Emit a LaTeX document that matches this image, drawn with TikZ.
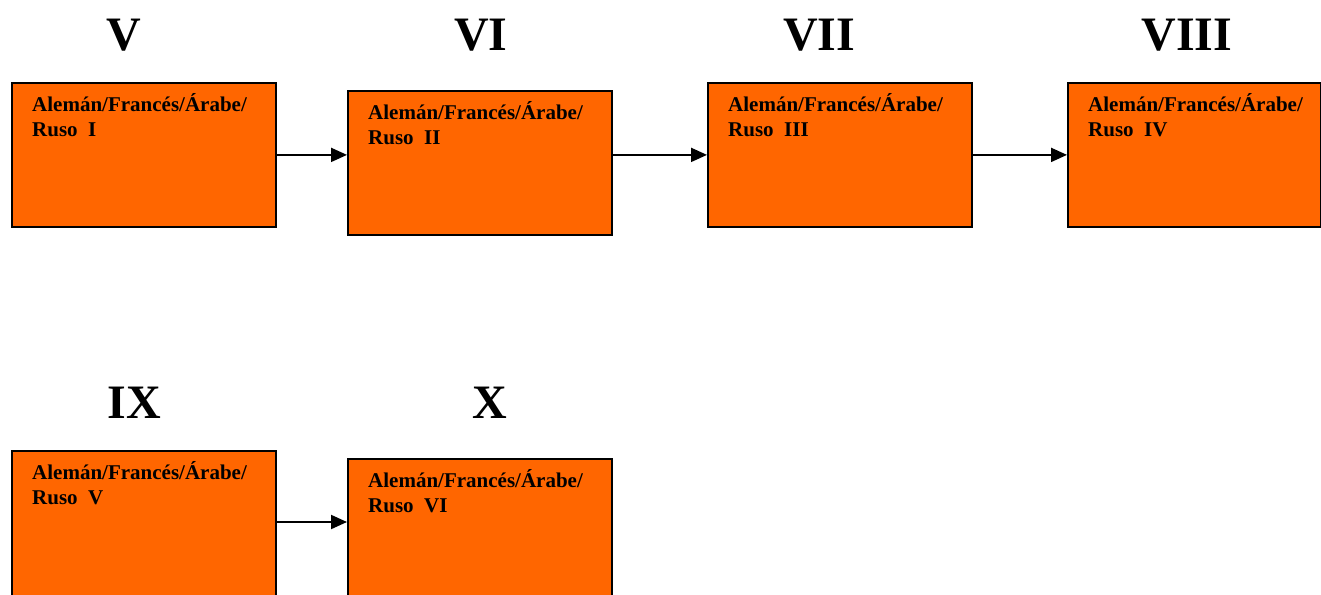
\documentclass[tikz,border=0pt]{standalone}
\usepackage{fontspec}
\setmainfont{Liberation Serif}
\usetikzlibrary{arrows.meta}
\definecolor{boxorange}{HTML}{FF6600}
\tikzset{
  x=1pt, y=-1pt,
  course/.style={draw=black, line width=1.8pt, fill=boxorange, anchor=north west,
    minimum width=264pt, minimum height=144pt, inner sep=0pt},
  coursetext/.style={anchor=base west, align=left, inner sep=0pt,
    font=\fontsize{21pt}{25pt}\selectfont\bfseries},
  level/.style={anchor=base, inner sep=0pt, font=\fontsize{48pt}{50pt}\selectfont\bfseries},
  flow/.style={draw=black, line width=2pt, -{Triangle[length=16pt,width=14pt]}}
}
\begin{document}
\begin{tikzpicture}
\useasboundingbox (0,0) rectangle (1321,594);

% semester headings
\node[level] (hV)    at (124,51)   {V};
\node[level] (hVI)   at (481,51)   {VI};
\node[level] (hVII)  at (819,51)   {VII};
\node[level] (hVIII) at (1187,51)  {VIII};
\node[level] (hIX)   at (134,418)  {IX};
\node[level] (hX)    at (490,418)  {X};

% course boxes
\node[course] (c1) at (11,82)   {};
\node[course] (c2) at (347,90)  {};
\node[course] (c3) at (707,82)  {};
\node[course, minimum width=253pt] (c4) at (1067,82)  {};
\node[course, minimum height=152pt] (c5) at (11,450)  {};
\node[course, minimum height=152pt] (c6) at (347,458) {};

% box captions (anchored on the baseline of the second line)
\node[coursetext] (t1) at ([shift={(21,54)}]c1.north west) {Alemán/Francés/Árabe/\\Ruso\ \ I};
\node[coursetext] (t2) at ([shift={(21,54)}]c2.north west) {Alemán/Francés/Árabe/\\Ruso\ \ II};
\node[coursetext] (t3) at ([shift={(21,54)}]c3.north west) {Alemán/Francés/Árabe/\\Ruso\ \ III};
\node[coursetext] (t4) at ([shift={(21,54)}]c4.north west) {Alemán/Francés/Árabe/\\Ruso\ \ IV};
\node[coursetext] (t5) at ([shift={(21,54)}]c5.north west) {Alemán/Francés/Árabe/\\Ruso\ \ V};
\node[coursetext] (t6) at ([shift={(21,54)}]c6.north west) {Alemán/Francés/Árabe/\\Ruso\ \ VI};

% sequence arrows
\draw[flow] (c1.east) -- (c2.west |- c1.east);
\draw[flow] (c2.east |- c1.east) -- (c3.west);
\draw[flow] (c3.east) -- (c4.west);
\coordinate (a5) at (275,522);
\draw[flow] (c5.east |- a5) -- (c6.west |- a5);
\end{tikzpicture}
\end{document}
